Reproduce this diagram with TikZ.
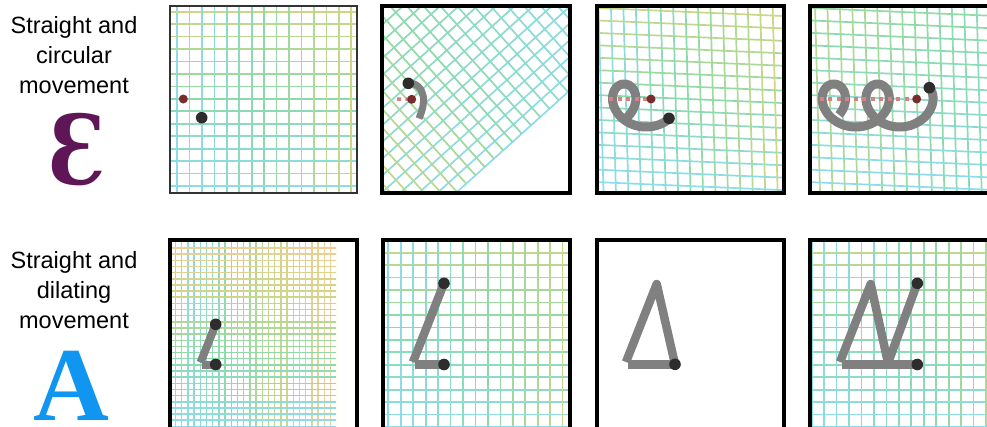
\documentclass[tikz,border=0pt]{standalone}
\usepackage{fontspec}
\setmainfont{Liberation Sans}
\newfontfamily\glyphfont[FakeStretch=0.84]{DejaVu Serif}
\newfontfamily\letterfont{Liberation Serif}
\usepackage{tikz}

\definecolor{gcyan}{RGB}{140,220,236}
\definecolor{ggreen}{RGB}{140,218,170}
\definecolor{gyellow}{RGB}{206,214,132}
\definecolor{gorange}{RGB}{248,204,156}
\definecolor{epsilonpurple}{RGB}{94,22,86}
\definecolor{alphablue}{RGB}{16,150,240}
\definecolor{centrered}{RGB}{122,44,44}
\definecolor{trailpink}{RGB}{214,130,130}
\definecolor{pendark}{RGB}{45,45,45}

% colour of a grid line, #1 from 0 (cyan) to 100 (yellow-green)
\newcommand{\gridcolour}[1]{%
  \pgfmathtruncatemacro{\gct}{max(0,min(100,#1))}%
  \ifnum\gct<50 \pgfmathtruncatemacro{\gcs}{2*\gct}\colorlet{gc}{ggreen!\gcs!gcyan}%
  \else \pgfmathtruncatemacro{\gcs}{2*\gct-100}\colorlet{gc}{gyellow!\gcs!ggreen}\fi}
% same, running on to orange
\newcommand{\finecolour}[1]{%
  \pgfmathtruncatemacro{\gct}{max(0,min(99,#1))}%
  \ifnum\gct<33 \pgfmathtruncatemacro{\gcs}{3*\gct}\colorlet{gc}{ggreen!\gcs!gcyan}%
  \else\ifnum\gct<66 \pgfmathtruncatemacro{\gcs}{3*(\gct-33)}\colorlet{gc}{gyellow!\gcs!ggreen}%
  \else \pgfmathtruncatemacro{\gcs}{min(100,3*(\gct-66))}\colorlet{gc}{gorange!\gcs!gyellow}\fi\fi}

\tikzset{
	gridline/.style={line width=1.7pt},
	fineline/.style={line width=1.5pt},
	frame/.style={line width=3.2pt, black},
	thinframe/.style={line width=2pt, black!80},
	penstroke/.style={line width=#1, gray, line cap=butt, line join=round},
	penstroke/.default=9pt,
	pendot/.style={fill=pendark},
	centredot/.style={fill=centrered},
	trail/.style={trailpink, line width=3.5pt, dash pattern=on 4pt off 4.5pt},
	labeltext/.style={align=center, inner sep=0pt, font=\fontsize{23.5}{30}\selectfont}
}

\begin{document}
\begin{tikzpicture}[x=1pt,y=-1pt]
\path[use as bounding box, clip] (0,0) rectangle (987,426);

%% labels
\node[labeltext, anchor=north] (circularlabel) at (74,16.1) {Straight and\\circular\\movement};
\node[labeltext, anchor=north] (dilatinglabel) at (74,251.1) {Straight and\\dilating\\movement};
\node[inner sep=0pt, anchor=base, text=epsilonpurple, font=\glyphfont\bfseries\fontsize{96}{96}\selectfont] (epsilonglyph) at (78,184) {Ɛ};
\node[inner sep=0pt, anchor=base, text=alphablue, font=\letterfont\bfseries\fontsize{105}{105}\selectfont] (alphaglyph) at (71.7,420.5) {A};

%% row 1, panel 1
\begin{scope}
  \clip (170,6) rectangle (357,193);
  \foreach \i in {0,...,14}{
    \gridcolour{100*\i/14}
    \draw[gridline, gc] (177+12.45*\i,6) -- (177+12.45*\i,193);
    \gridcolour{100-100*\i/14}
    \draw[gridline, gc] (170,11.7+12.45*\i) -- (357,11.7+12.45*\i);
  }
\end{scope}
\fill[centredot] (183.3,99) circle (4.5);
\fill[pendot] (201.7,117.7) circle (5.8);
\draw[thinframe] (170,6) rectangle (357,193);

%% row 1, panel 2
\begin{scope}
  \clip (382,6) rectangle (570,193);
  \begin{scope}[shift={(568,92)}, rotate=42, xscale=-1]
    \foreach \k in {0,...,17}{
      \gridcolour{3.3*\k}
      \draw[gridline, gc] (-150,-12.45*\k) -- (320,-12.45*\k);
    }
    \foreach \m in {-6,...,18}{
      \gridcolour{(12.45*\m+59)/2.64}
      \draw[gridline, gc] (12.45*\m,0) -- (12.45*\m,-330);
    }
  \end{scope}
\end{scope}
\draw[penstroke=7pt] plot[smooth] coordinates {(419,118.5) (422.5,108.5) (423.5,98) (420.5,89) (414.5,84) (408.3,83.3)};
\draw[trail] (397,99) -- (411.7,99.3);
\fill[centredot] (411.7,99.3) circle (4.5);
\fill[pendot] (408.3,83.3) circle (5.8);
\draw[frame] (382,6) rectangle (570,193);

%% row 1, panel 3
\begin{scope}
  \clip (597,6) rectangle (784,193);
  \begin{scope}[cm={1,-0.043,-0.027,1,(597,6)}]
    \foreach \i in {-1,...,15}{
      \gridcolour{100*\i/14}
      \draw[gridline, gc] (1.5+12.45*\i,-20) -- (1.5+12.45*\i,210);
      \gridcolour{100-100*\i/14}
      \draw[gridline, gc] (-20,2+12.45*\i) -- (210,2+12.45*\i);
    }
  \end{scope}
\end{scope}
\draw[penstroke] plot[domain=0:6.21, samples=90, variable=\t]
  ({609.3+6.97*\t+21.5*cos(32.3-deg(\t))}, {105.5+21.5*sin(32.3-deg(\t))});
\draw[trail] (609.3,99) -- (651,99);
\fill[centredot] (651,99) circle (4.5);
\fill[pendot] (669,118.3) circle (5.8);
\draw[frame] (597,6) rectangle (784,193);

%% row 1, panel 4
\begin{scope}
  \clip (810,6) rectangle (987,193);
  \begin{scope}[cm={1,-0.043,-0.027,1,(810,6)}]
    \foreach \i in {-1,...,15}{
      \gridcolour{85-50*\i/14}
      \draw[gridline, gc] (5+12.45*\i,-20) -- (5+12.45*\i,210);
      \gridcolour{55-55*\i/14}
      \draw[gridline, gc] (-20,2+12.45*\i) -- (210,2+12.45*\i);
    }
  \end{scope}
\end{scope}
\draw[penstroke] plot[domain=0:14.0, samples=200, variable=\t]
  ({819.7+6.97*\t+21.5*cos(26-deg(\t))}, {105.5+21.5*sin(26-deg(\t))});
\draw[trail] (819.7,99) -- (916.7,99);
\fill[centredot] (916.7,99) circle (4.5);
\fill[pendot] (929.3,87.7) circle (5.8);
\draw[frame] (810,6) rectangle (1000,193);

%% row 2, panel 1
\begin{scope}
  \clip (170,240) rectangle (336,427);
  \foreach \i in {0,...,26}{
    \finecolour{99*\i/26}
    \draw[fineline, gc] (175.5+6.2*\i,240) -- (175.5+6.2*\i,427);
  }
  \foreach \j in {0,...,29}{
    \finecolour{92-95*\j/29}
    \draw[fineline, gc] (170,248+6.15*\j) -- (336,248+6.15*\j);
  }
\end{scope}
\draw[penstroke=8pt] (215.7,324.3) -- (200.5,362.5);
\draw[penstroke=8pt] (201.5,365) -- (215.7,365);
\fill[pendot] (215.7,324.3) circle (5.8);
\fill[pendot] (215.7,364.5) circle (5.8);
\draw[frame] (170,240) rectangle (357,432);

%% row 2, panel 2
\begin{scope}
  \clip (383,240) rectangle (570,427);
  \foreach \i in {0,...,14}{
    \gridcolour{90*\i/14}
    \draw[gridline, gc] (388.3+12.45*\i,240) -- (388.3+12.45*\i,427);
    \gridcolour{90-90*\i/14}
    \draw[gridline, gc] (383,252.7+12.45*\i) -- (570,252.7+12.45*\i);
  }
\end{scope}
\draw[penstroke=8.5pt] (444,283.3) -- (413,362);
\draw[penstroke=8.5pt] (415,364.5) -- (444,364.5);
\fill[pendot] (444,283.3) circle (5.8);
\fill[pendot] (444,364.5) circle (5.8);
\draw[frame] (383,240) rectangle (570,432);

%% row 2, panel 3
\draw[penstroke=8.5pt] (626,362) -- (656.7,284) -- (675,364.3);
\draw[penstroke=8.5pt] (628,364.5) -- (675,364.5);
\fill[pendot] (675,364.3) circle (5.8);
\draw[frame] (597,240) rectangle (784,432);

%% row 2, panel 4
\begin{scope}
  \clip (810,240) rectangle (987,427);
  \foreach \i in {0,...,14}{
    \gridcolour{75*\i/14}
    \draw[gridline, gc] (811.7+12.45*\i,240) -- (811.7+12.45*\i,427);
    \gridcolour{90-90*\i/14}
    \draw[gridline, gc] (810,252.7+12.45*\i) -- (987,252.7+12.45*\i);
  }
\end{scope}
\draw[penstroke=8.5pt] (840,362) -- (870.7,284) -- (888,363) -- (917.3,283.3);
\draw[penstroke=8.5pt] (842,364.5) -- (917.3,364.5);
\fill[pendot] (917.3,283.3) circle (5.8);
\fill[pendot] (917.3,364.5) circle (5.8);
\draw[frame] (810,240) rectangle (1000,432);
\end{tikzpicture}
\end{document}
